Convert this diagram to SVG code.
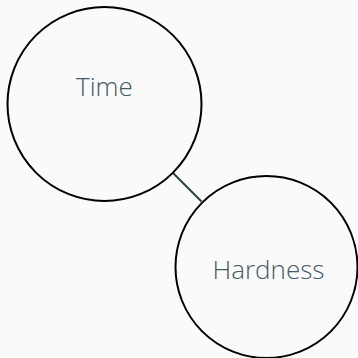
<svg xmlns="http://www.w3.org/2000/svg" width="358" height="358" viewBox="0 0 358 358">
<style>
.node{fill:#fafafa;stroke:#000;stroke-width:2}
.lbl{font-family:"Open Sans","Noto Sans",sans-serif;font-weight:300;font-size:26px;fill:#455a64;text-anchor:middle}
.edge{stroke:#2f3f3f;stroke-width:2}
</style>
<rect width="358" height="358" fill="#fafafa"/>
<g id="connectors">
<line class="edge" x1="173" y1="173" x2="201.5" y2="201.5"/>
</g>
<g id="time">
<circle class="node" cx="104.5" cy="104" r="97"/>
<text class="lbl" x="104.5" y="96">Time</text>
</g>
<g id="hardness">
<circle class="node" cx="266.5" cy="267" r="91"/>
<text class="lbl" x="268.5" y="279">Hardness</text>
</g>
</svg>
